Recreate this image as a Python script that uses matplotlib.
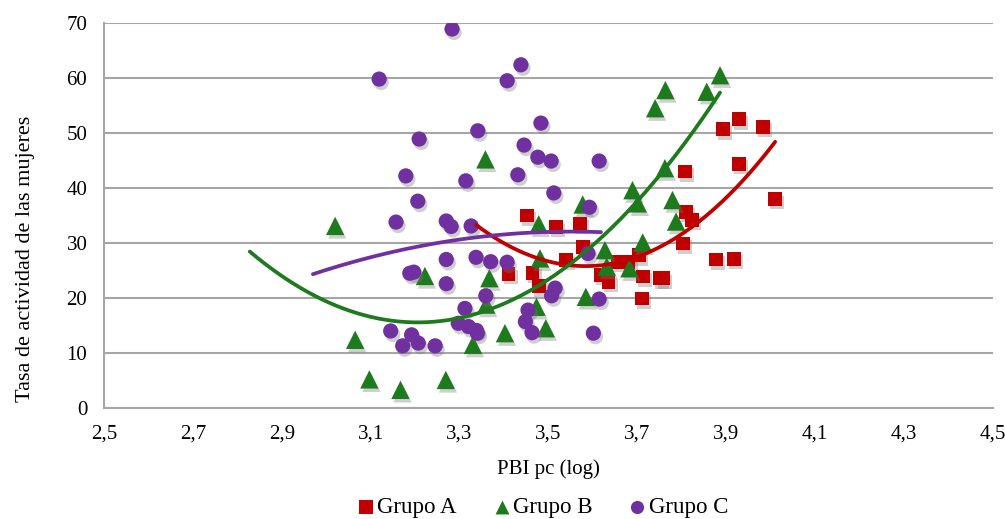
import numpy as np
import matplotlib.pyplot as plt
import matplotlib.patheffects as pe
from matplotlib.ticker import FuncFormatter

# Grupo A (squares)
a_x = [3.451, 3.517, 3.571, 3.578, 3.892, 3.929, 3.982, 3.929, 3.807, 4.009,
       3.809, 3.822, 3.802, 3.877, 3.917, 3.410, 3.464, 3.479, 3.540, 3.617,
       3.635, 3.657, 3.680, 3.704, 3.712, 3.710, 3.751, 3.758]
a_y = [35.0, 32.9, 33.5, 29.3, 50.7, 52.5, 51.1, 44.4, 43.0, 38.0,
       35.7, 34.2, 29.9, 27.0, 27.1, 24.4, 24.6, 22.1, 26.9, 24.2,
       22.9, 26.6, 26.6, 27.8, 23.9, 19.9, 23.6, 23.6]

# Grupo B (triangles)
b_x = [3.020, 3.065, 3.097, 3.167, 3.269, 3.222, 3.367, 3.330, 3.402, 3.360,
       3.358, 3.478, 3.481, 3.473, 3.494, 3.584, 3.627, 3.631, 3.682, 3.712,
       3.701, 3.779, 3.787, 3.577, 3.886, 3.856, 3.763, 3.740, 3.762, 3.689]
b_y = [33.1, 12.4, 5.2, 3.3, 5.1, 24.0, 23.6, 11.5, 13.6, 18.8,
       45.2, 33.4, 27.2, 18.4, 14.5, 20.2, 28.7, 25.7, 25.4, 30.1,
       37.2, 37.8, 33.9, 37.0, 60.5, 57.5, 57.8, 54.5, 43.6, 39.6]

# Grupo C (circles)
c_x = [3.283, 3.119, 3.438, 3.407, 3.483, 3.341, 3.209, 3.445, 3.476, 3.506,
       3.614, 3.179, 3.314, 3.431, 3.512, 3.206, 3.592, 3.157, 3.270, 3.281,
       3.326, 3.270, 3.337, 3.370, 3.407, 3.188, 3.197, 3.270, 3.359, 3.312,
       3.297, 3.320, 3.338, 3.340, 3.145, 3.192, 3.172, 3.207, 3.245, 3.589,
       3.515, 3.507, 3.614, 3.454, 3.448, 3.463, 3.601]
c_y = [68.9, 59.8, 62.4, 59.5, 51.8, 50.4, 48.9, 47.8, 45.6, 44.9,
       44.9, 42.2, 41.3, 42.4, 39.1, 37.6, 36.5, 33.8, 34.0, 33.0,
       33.1, 27.0, 27.4, 26.6, 26.5, 24.5, 24.7, 22.6, 20.4, 18.1,
       15.4, 14.8, 14.1, 13.6, 14.0, 13.3, 11.3, 11.8, 11.3, 28.1,
       21.8, 20.4, 19.8, 17.8, 15.7, 13.7, 13.6]

# x-span of each quadratic trendline
a_trend = [3.337, 4.010]
b_trend = [2.828, 3.886]
c_trend = [2.970, 3.618]

red = '#c00000'
green = '#1d7a1d'
purple = '#7030a0'

plt.rcParams['font.family'] = ['Liberation Serif', 'DejaVu Serif']

fig = plt.figure(figsize=(10.05, 5.19), dpi=100)
ax = fig.add_axes([0.1035, 0.2139, 0.8845, 0.7418])

shadow = [pe.SimplePatchShadow(offset=(1.5, -2.5), shadow_rgbFace='#777777', alpha=0.35), pe.Normal()]

ax.scatter(a_x, a_y, marker='s', s=100, color=red, linewidths=0, zorder=3,
           path_effects=shadow, label='Grupo A')
ax.scatter(b_x, b_y, marker='^', s=175, color=green, linewidths=0, zorder=3,
           path_effects=shadow, label='Grupo B')
ax.scatter(c_x, c_y, marker='o', s=120, color=purple, linewidths=0, zorder=3,
           path_effects=shadow, label='Grupo C')

for xs, ys, rng, col in [(a_x, a_y, a_trend, red), (b_x, b_y, b_trend, green),
                         (c_x, c_y, c_trend, purple)]:
    p = np.polyfit(xs, ys, 2)
    xx = np.linspace(rng[0], rng[1], 200)
    ax.plot(xx, np.polyval(p, xx), color=col, lw=2.7, solid_capstyle='round', zorder=4)

ax.set_xlim(2.5, 4.5)
ax.set_ylim(0, 70)
ax.set_xticks(np.arange(2.5, 4.51, 0.2))
ax.set_yticks(range(0, 71, 10))
ax.xaxis.set_major_formatter(FuncFormatter(lambda v, _: f'{v:.1f}'.replace('.', ',')))
ax.tick_params(axis='both', length=0, labelsize=15)
ax.tick_params(axis='x', pad=12)
ax.tick_params(axis='y', pad=12)
ax.grid(axis='y', color='#a6a6a6', lw=1.5)
ax.set_axisbelow(True)
for s in ['top', 'right']:
    ax.spines[s].set_visible(False)
for s in ['left', 'bottom']:
    ax.spines[s].set_color('#a6a6a6')
    ax.spines[s].set_linewidth(1.5)

ax.set_xlabel('PBI pc (log)', fontsize=15, labelpad=11)
ax.set_ylabel('Tasa de actividad de las mujeres', fontsize=16)
ax.yaxis.set_label_coords(-0.0775, 0.387)

leg = fig.legend(loc='lower center', bbox_to_anchor=(0.533, -0.038), ncol=3, frameon=False,
                 fontsize=16.5, handletextpad=-0.5, columnspacing=0.95)
for h, sz in zip(leg.legend_handles, [90, 100, 90]):
    h.set_sizes([sz])
    h.set_path_effects([])

fig.savefig('out.png', dpi=100)
